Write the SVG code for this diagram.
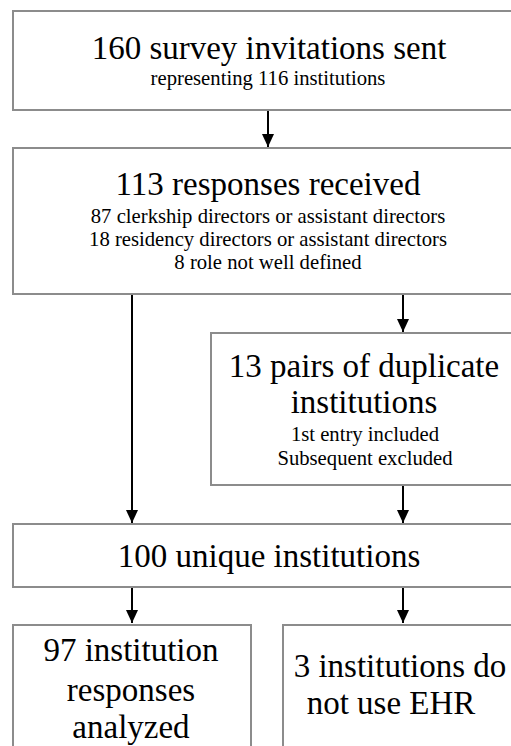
<svg xmlns="http://www.w3.org/2000/svg" width="511" height="746" viewBox="0 0 511 746">
<style>
.box{fill:#fff;stroke:#8c8c8c;stroke-width:2}
text{font-family:'Liberation Serif','Times New Roman',serif;fill:#000;text-anchor:middle}
.big{font-size:33px}
.sm{font-size:20.7px}
.ln{stroke:#000;stroke-width:2;fill:none}
</style>
<defs>
<marker id="ah" markerUnits="userSpaceOnUse" markerWidth="12" markerHeight="14" refX="13" refY="6" orient="auto">
<path d="M0,0 L13,6 L0,12 Z" fill="#000"/>
</marker>
</defs>
<rect width="511" height="746" fill="#fff"/>
<g id="connectors">
<line class="ln" x1="268" y1="111" x2="268" y2="147" marker-end="url(#ah)"/>
<line class="ln" x1="132" y1="295" x2="132" y2="523" marker-end="url(#ah)"/>
<line class="ln" x1="403" y1="295" x2="403" y2="332" marker-end="url(#ah)"/>
<line class="ln" x1="403" y1="486" x2="403" y2="523" marker-end="url(#ah)"/>
<line class="ln" x1="132" y1="588" x2="132" y2="623" marker-end="url(#ah)"/>
<line class="ln" x1="403" y1="588" x2="403" y2="623" marker-end="url(#ah)"/>
</g>
<g id="n1">
<rect class="box" x="13" y="11" width="510" height="99"/>
<text class="big" x="269" y="59">160 survey invitations sent</text>
<text class="sm" x="268" y="85">representing 116 institutions</text>
</g>
<g id="n2">
<rect class="box" x="13" y="148" width="510" height="146"/>
<text class="big" x="268" y="195">113 responses received</text>
<text class="sm" x="268" y="223">87 clerkship directors or assistant directors</text>
<text class="sm" x="268" y="246">18 residency directors or assistant directors</text>
<text class="sm" x="268" y="269">8 role not well defined</text>
</g>
<g id="n3">
<rect class="box" x="211" y="333" width="320" height="152"/>
<text class="big" x="364" y="377">13 pairs of duplicate</text>
<text class="big" x="364" y="413">institutions</text>
<text class="sm" x="365" y="441">1st entry included</text>
<text class="sm" x="365" y="465">Subsequent excluded</text>
</g>
<g id="n4">
<rect class="box" x="13" y="524" width="510" height="63"/>
<text class="big" x="269" y="567">100 unique institutions</text>
</g>
<g id="n5">
<rect class="box" x="13" y="625" width="238" height="140"/>
<text class="big" x="131" y="661">97 institution</text>
<text class="big" x="131" y="701">responses</text>
<text class="big" x="131" y="738">analyzed</text>
</g>
<g id="n6">
<rect class="box" x="283" y="625" width="240" height="140"/>
<text class="big" x="400" y="677">3 institutions do</text>
<text class="big" x="391" y="714">not use EHR</text>
</g>
</svg>
